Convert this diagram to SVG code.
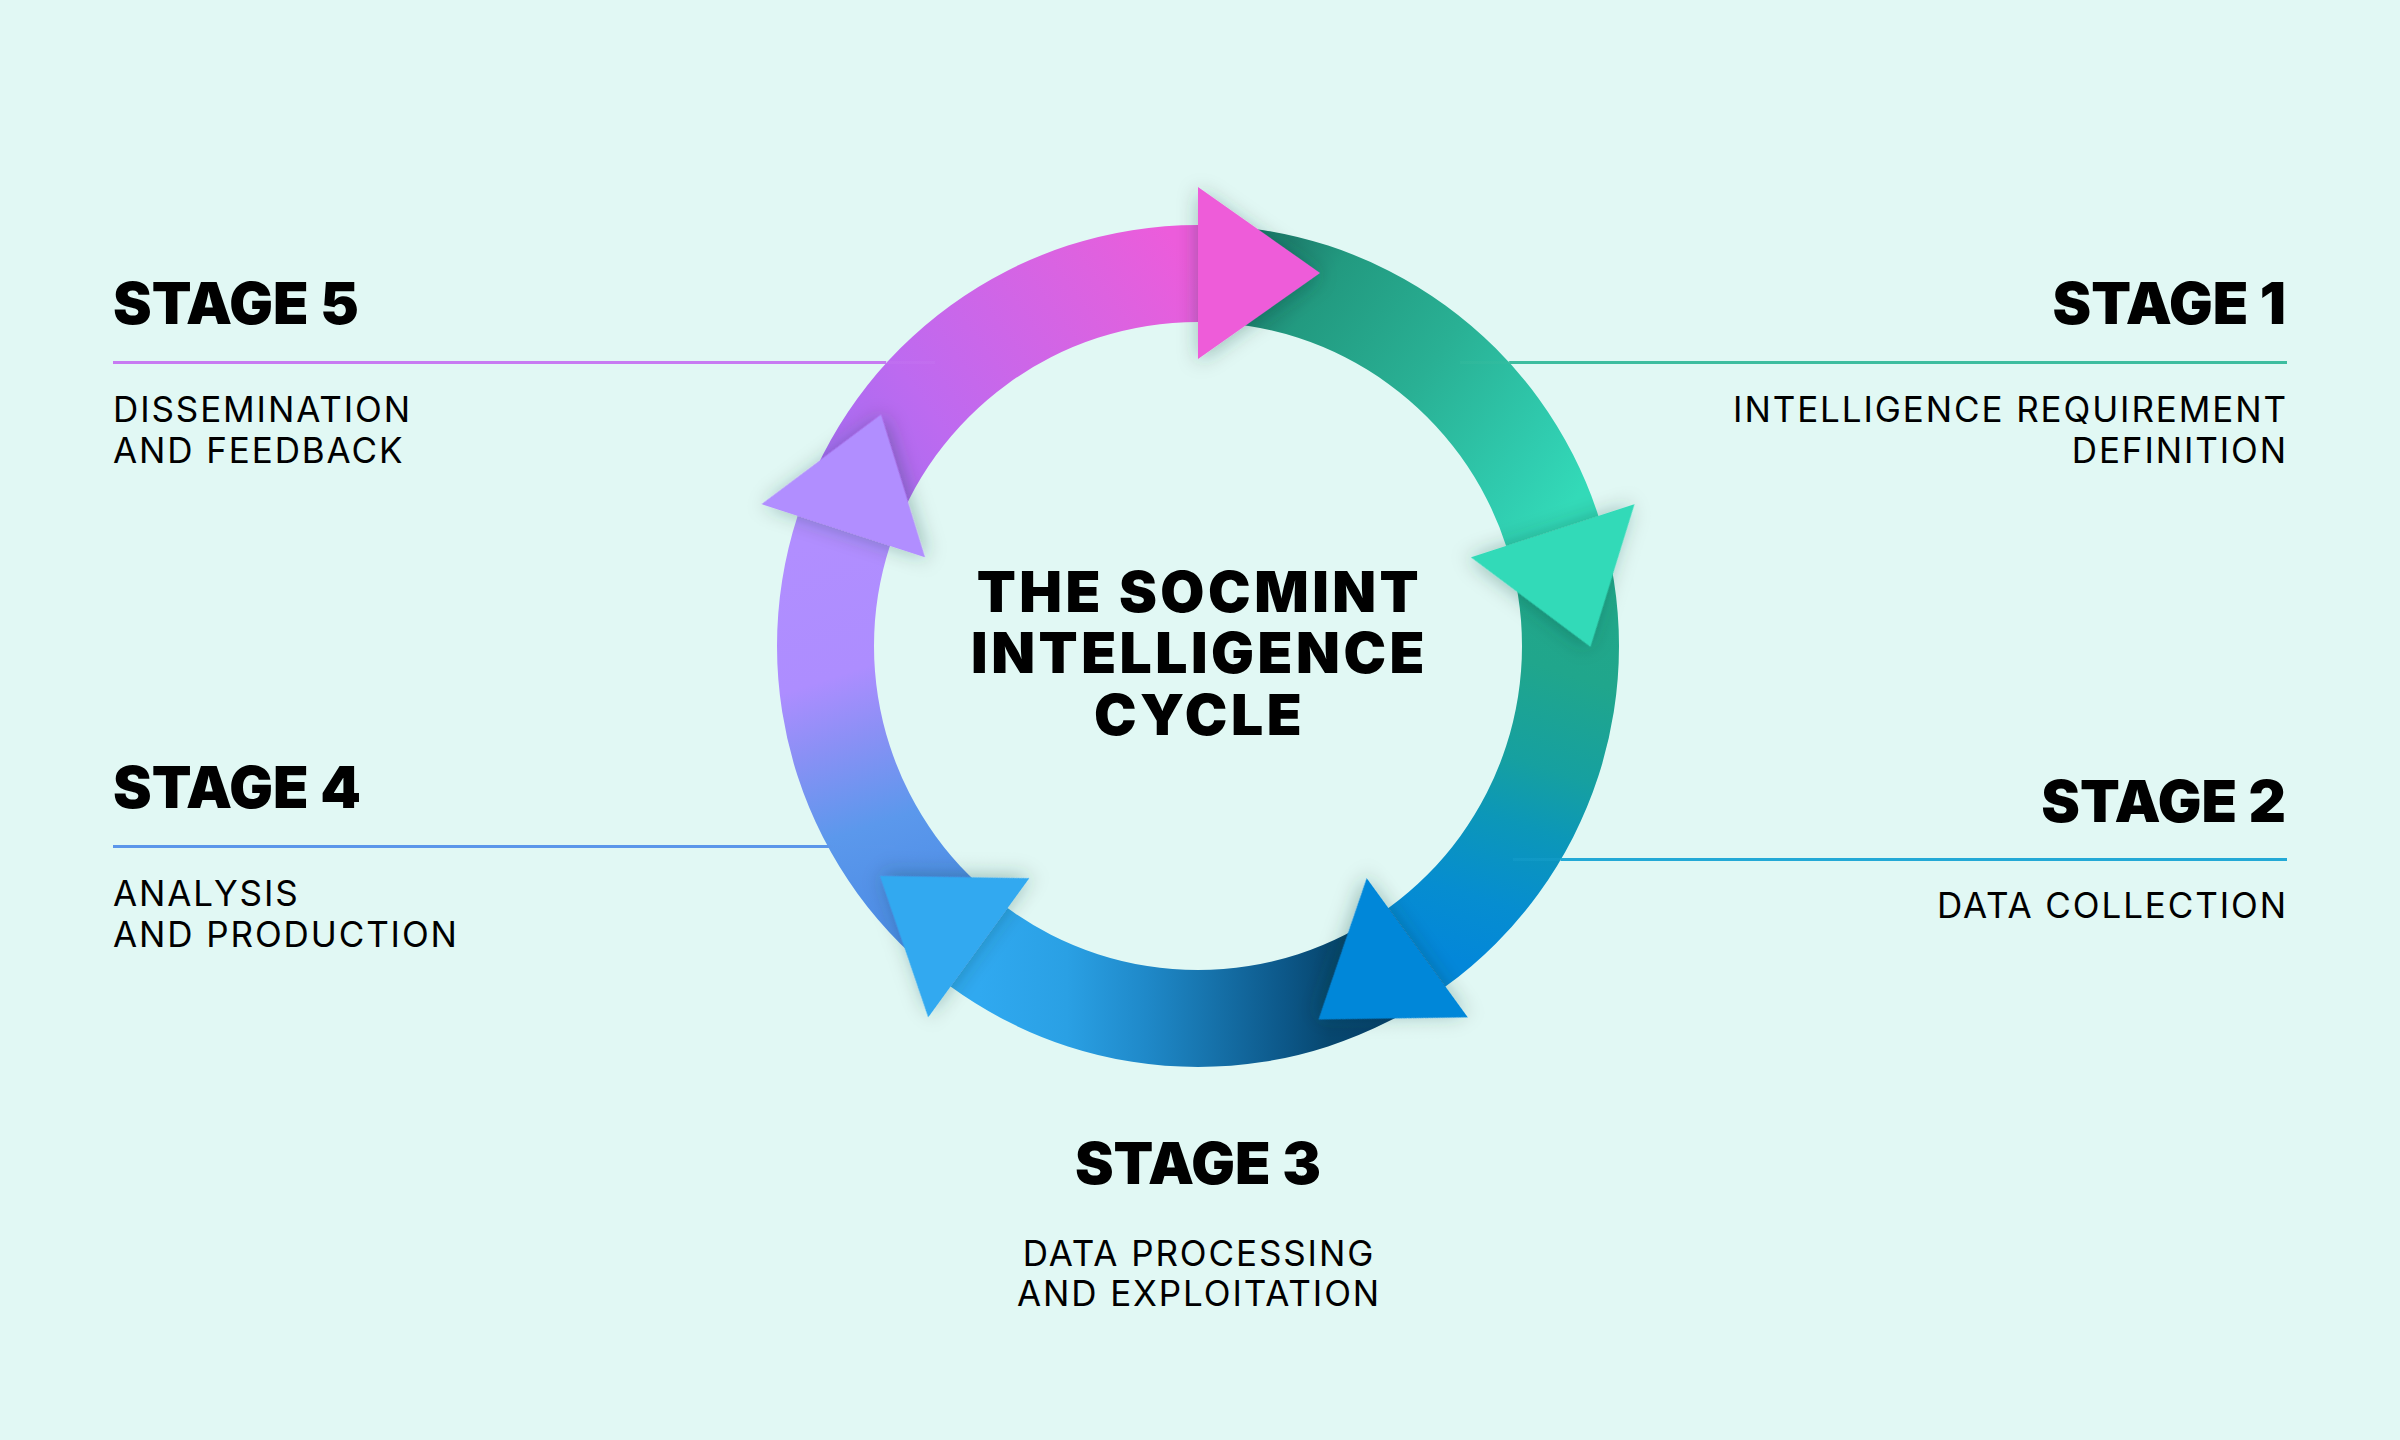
<svg xmlns="http://www.w3.org/2000/svg" width="2400" height="1440" viewBox="0 0 2400 1440">
<defs>
<style>
.h{font-family:Inter,"Noto Sans","Liberation Sans",sans-serif;font-weight:900;font-size:58px;fill:#000}
.t{font-family:Inter,"Noto Sans","Liberation Sans",sans-serif;font-weight:900;font-size:57px;fill:#000;letter-spacing:3.5px}
.b{font-family:Inter,"Noto Sans","Liberation Sans",sans-serif;font-weight:400;font-size:35px;fill:#000;letter-spacing:1.9px}
.ln{stroke-width:3;fill:none}
.head{filter:url(#sh)}
</style>
<filter id="sh" x="-30%" y="-30%" width="160%" height="160%">
<feDropShadow dx="0" dy="3" stdDeviation="10" flood-color="#0b3b35" flood-opacity="0.32"/>
</filter>
<path id="body" d="M 797.61 515.90 A 421 421 0 0 1 1198 225 L 1198 322 A 324 324 0 0 0 889.86 545.88 Z"/>
<path id="tri" d="M 1198 187 L 1320 273 L 1198 359 Z"/>
<linearGradient id="gPink" gradientUnits="userSpaceOnUse" x1="843.7" y1="530.9" x2="1198" y2="273.5">
<stop offset="0" stop-color="#a46af2"/><stop offset="0.1" stop-color="#a86cf0"/><stop offset="0.32" stop-color="#bd6af0"/><stop offset="0.8" stop-color="#dd62e0"/><stop offset="1" stop-color="#ec5cdb"/>
</linearGradient>
<linearGradient id="gGreen" gradientUnits="userSpaceOnUse" x1="843.7" y1="530.9" x2="1198" y2="273.5">
<stop offset="0" stop-color="#1a7565"/><stop offset="0.13" stop-color="#1d806e"/><stop offset="0.25" stop-color="#229a80"/><stop offset="0.55" stop-color="#29b094"/><stop offset="0.87" stop-color="#30cdb0"/><stop offset="1" stop-color="#33dab8"/>
</linearGradient>
<linearGradient id="gBlue" gradientUnits="userSpaceOnUse" x1="843.7" y1="530.9" x2="1198" y2="273.5">
<stop offset="0" stop-color="#22a888"/><stop offset="0.3" stop-color="#20a68c"/><stop offset="0.52" stop-color="#16a0a0"/><stop offset="0.66" stop-color="#0c97b8"/><stop offset="0.85" stop-color="#068dd0"/><stop offset="1" stop-color="#0387d9"/>
</linearGradient>
<linearGradient id="gSky" gradientUnits="userSpaceOnUse" x1="843.7" y1="530.9" x2="1198" y2="273.5">
<stop offset="0" stop-color="#053c66"/><stop offset="0.2" stop-color="#07476f"/><stop offset="0.3" stop-color="#0c5788"/><stop offset="0.5" stop-color="#1877b1"/><stop offset="0.62" stop-color="#1f89c9"/><stop offset="0.8" stop-color="#2aa0e4"/><stop offset="1" stop-color="#30a9f0"/>
</linearGradient>
<linearGradient id="gViolet" gradientUnits="userSpaceOnUse" x1="843.7" y1="530.9" x2="1198" y2="273.5">
<stop offset="0" stop-color="#4788e2"/><stop offset="0.34" stop-color="#5b98ec"/><stop offset="0.54" stop-color="#8a90f5"/><stop offset="0.69" stop-color="#ad8dff"/><stop offset="1" stop-color="#b18eff"/>
</linearGradient>
<linearGradient id="l5" gradientUnits="userSpaceOnUse" x1="113" y1="0" x2="935" y2="0">
<stop offset="0" stop-color="#c77bf2"/><stop offset="0.94" stop-color="#c77bf2"/><stop offset="0.941" stop-color="#c77bf2" stop-opacity="0.25"/><stop offset="1" stop-color="#c77bf2" stop-opacity="0.25"/>
</linearGradient>
<linearGradient id="l1" gradientUnits="userSpaceOnUse" x1="1460" y1="0" x2="2287" y2="0">
<stop offset="0" stop-color="#3dbd9f" stop-opacity="0.25"/><stop offset="0.059" stop-color="#3dbd9f" stop-opacity="0.25"/><stop offset="0.06" stop-color="#3dbd9f"/><stop offset="1" stop-color="#3dbd9f"/>
</linearGradient>
<linearGradient id="l4" gradientUnits="userSpaceOnUse" x1="113" y1="0" x2="895" y2="0">
<stop offset="0" stop-color="#5b96ea"/><stop offset="0.918" stop-color="#5b96ea"/><stop offset="0.919" stop-color="#5b96ea" stop-opacity="0.25"/><stop offset="1" stop-color="#5b96ea" stop-opacity="0.25"/>
</linearGradient>
<linearGradient id="l2" gradientUnits="userSpaceOnUse" x1="1513" y1="0" x2="2287" y2="0">
<stop offset="0" stop-color="#22a9d6" stop-opacity="0.25"/><stop offset="0.061" stop-color="#22a9d6" stop-opacity="0.25"/><stop offset="0.062" stop-color="#22a9d6"/><stop offset="1" stop-color="#22a9d6"/>
</linearGradient>
</defs>
<rect width="2400" height="1440" fill="#e1f8f4"/>

<g id="ring-bodies">
<use href="#body" fill="url(#gPink)"/>
<use href="#body" fill="url(#gGreen)" transform="rotate(72 1198 646)"/>
<use href="#body" fill="url(#gBlue)" transform="rotate(144 1198 646)"/>
<use href="#body" fill="url(#gSky)" transform="rotate(216 1198 646)"/>
<use href="#body" fill="url(#gViolet)" transform="rotate(288 1198 646)"/>
</g>

<g id="connectors">
<line class="ln" x1="113" y1="362.5" x2="935" y2="362.5" stroke="url(#l5)"/>
<line class="ln" x1="1460" y1="362.5" x2="2287" y2="362.5" stroke="url(#l1)"/>
<line class="ln" x1="113" y1="846.5" x2="895" y2="846.5" stroke="url(#l4)"/>
<line class="ln" x1="1513" y1="859.5" x2="2287" y2="859.5" stroke="url(#l2)"/>
</g>

<g id="ring-heads">
<use class="head" href="#tri" fill="#ee5cd9"/>
<use class="head" href="#tri" fill="#33dab8" transform="rotate(72 1198 646)"/>
<use class="head" href="#tri" fill="#0387d9" transform="rotate(144 1198 646)"/>
<use class="head" href="#tri" fill="#30a9f0" transform="rotate(216 1198 646)"/>
<use class="head" href="#tri" fill="#b18eff" transform="rotate(288 1198 646)"/>
</g>

<g id="title">
<text class="t" text-anchor="middle"><tspan x="1199.5" y="612">THE SOCMINT</tspan><tspan x="1199.5" y="673">INTELLIGENCE</tspan><tspan x="1199.5" y="735">CYCLE</tspan></text>
</g>

<g id="stage-1">
<text class="h" x="2286" y="324" text-anchor="end">STAGE 1</text>
<text class="b" x="2288" y="422" text-anchor="end">INTELLIGENCE REQUIREMENT</text>
<text class="b" x="2288" y="463" text-anchor="end">DEFINITION</text>
</g>
<g id="stage-2">
<text class="h" x="2286" y="822" text-anchor="end">STAGE 2</text>
<text class="b" x="2288" y="918" text-anchor="end">DATA COLLECTION</text>
</g>
<g id="stage-3">
<text class="h" x="1198" y="1184" text-anchor="middle">STAGE 3</text>
<text class="b" x="1199" y="1266" text-anchor="middle">DATA PROCESSING</text>
<text class="b" x="1199" y="1306" text-anchor="middle">AND EXPLOITATION</text>
</g>
<g id="stage-4">
<text class="h" x="113" y="808">STAGE 4</text>
<text class="b" x="113" y="906">ANALYSIS</text>
<text class="b" x="113" y="947">AND PRODUCTION</text>
</g>
<g id="stage-5">
<text class="h" x="113" y="324">STAGE 5</text>
<text class="b" x="113" y="422">DISSEMINATION</text>
<text class="b" x="113" y="463">AND FEEDBACK</text>
</g>
</svg>
